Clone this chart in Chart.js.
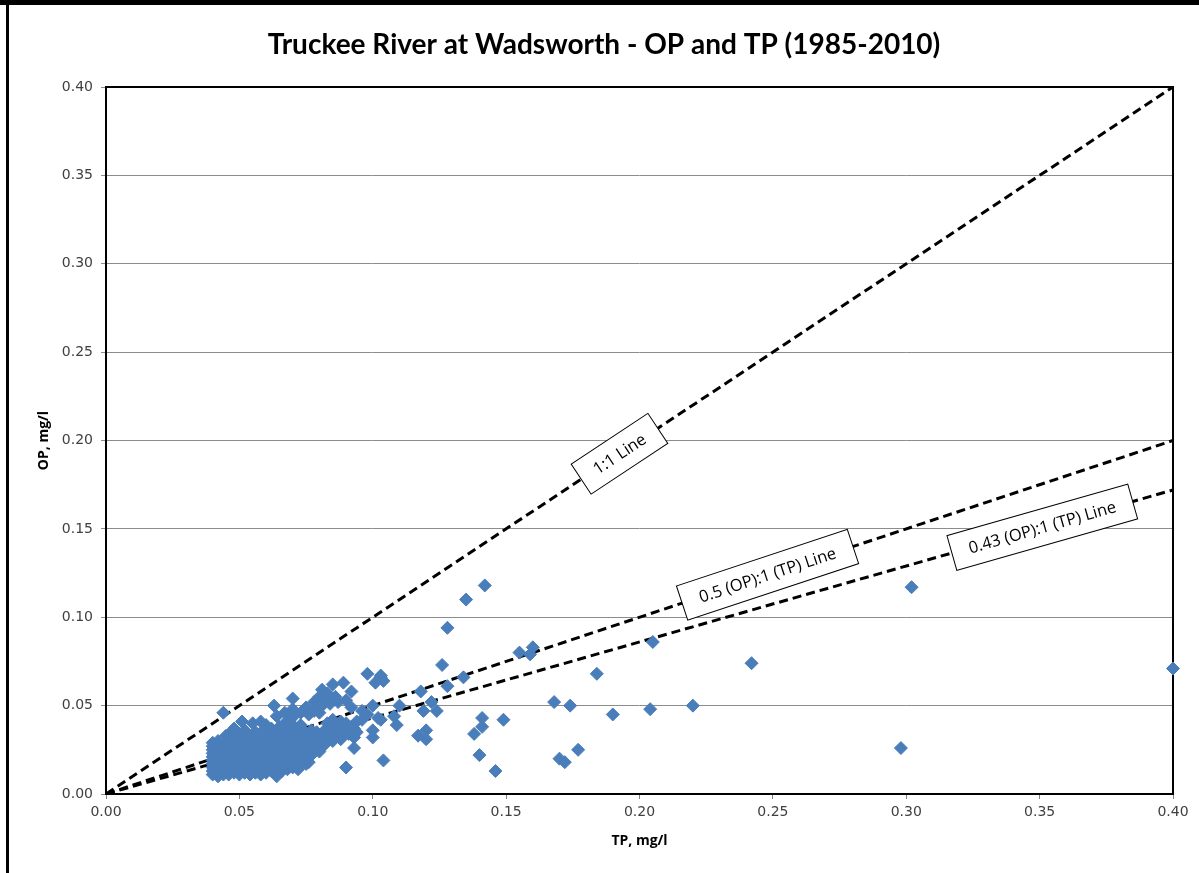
<!DOCTYPE html>
<html>
<head>
<meta charset="utf-8">
<title>Truckee River at Wadsworth - OP and TP (1985-2010)</title>
<script src="https://cdn.jsdelivr.net/npm/chart.js@4.4.1/dist/chart.umd.min.js"></script>
<style>
  html, body { margin: 0; padding: 0; background: #ffffff; }
  #wrap { width: 1199px; height: 873px; }
</style>
</head>
<body>
<div id="wrap"><canvas id="chart" width="1199" height="873"></canvas></div>
<script>
// Paired samples [TP, OP] in mg/l, grouped by TP range
const samplesTP040to059 = [
  [0.040,0.011],[0.040,0.013],[0.040,0.015],[0.040,0.017],[0.040,0.019],[0.040,0.021],[0.040,0.023],[0.040,0.025],[0.040,0.027],[0.040,0.029],
  [0.041,0.012],[0.041,0.016],[0.041,0.020],[0.041,0.024],[0.041,0.028],
  [0.042,0.010],[0.042,0.014],[0.042,0.018],[0.042,0.022],[0.042,0.026],[0.042,0.030],
  [0.043,0.012],[0.043,0.017],[0.043,0.021],[0.043,0.025],
  [0.044,0.011],[0.044,0.015],[0.044,0.019],[0.044,0.023],[0.044,0.027],[0.044,0.046],
  [0.045,0.013],[0.045,0.018],[0.045,0.022],[0.045,0.028],[0.045,0.033],
  [0.046,0.011],[0.046,0.016],[0.046,0.020],[0.046,0.025],[0.046,0.030],
  [0.047,0.014],[0.047,0.019],[0.047,0.024],[0.047,0.035],
  [0.048,0.012],[0.048,0.017],[0.048,0.022],[0.048,0.027],[0.048,0.031],[0.048,0.037],
  [0.049,0.015],[0.049,0.020],[0.049,0.026],[0.049,0.033],
  [0.050,0.011],[0.050,0.016],[0.050,0.021],[0.050,0.025],[0.050,0.029],[0.050,0.034],
  [0.051,0.013],[0.051,0.018],[0.051,0.023],[0.051,0.028],[0.051,0.041],
  [0.052,0.012],[0.052,0.020],[0.052,0.026],[0.052,0.031],[0.052,0.036],
  [0.053,0.015],[0.053,0.022],[0.053,0.027],[0.053,0.033],
  [0.054,0.011],[0.054,0.018],[0.054,0.024],[0.054,0.029],
  [0.055,0.014],[0.055,0.020],[0.055,0.026],[0.055,0.032],[0.055,0.040],
  [0.056,0.012],[0.056,0.017],[0.056,0.023],[0.056,0.028],[0.056,0.035],
  [0.057,0.015],[0.057,0.021],[0.057,0.030],
  [0.058,0.011],[0.058,0.019],[0.058,0.025],[0.058,0.033],[0.058,0.041],
  [0.059,0.014],[0.059,0.022],[0.059,0.028],[0.059,0.036]
];
const samplesTP060to079 = [
  [0.060,0.012],[0.060,0.017],[0.060,0.024],[0.060,0.030],[0.060,0.039],
  [0.061,0.015],[0.061,0.021],[0.061,0.027],[0.061,0.034],
  [0.062,0.013],[0.062,0.019],[0.062,0.025],[0.062,0.031],[0.062,0.037],
  [0.063,0.016],[0.063,0.023],[0.063,0.029],[0.063,0.035],[0.063,0.050],
  [0.064,0.010],[0.064,0.014],[0.064,0.020],[0.064,0.026],[0.064,0.033],[0.064,0.044],
  [0.065,0.017],[0.065,0.022],[0.065,0.028],[0.065,0.038],
  [0.066,0.013],[0.066,0.019],[0.066,0.025],[0.066,0.031],[0.066,0.036],
  [0.067,0.016],[0.067,0.023],[0.067,0.029],[0.067,0.034],[0.067,0.040],[0.067,0.046],
  [0.068,0.014],[0.068,0.020],[0.068,0.027],[0.068,0.032],[0.068,0.038],
  [0.069,0.018],[0.069,0.024],[0.069,0.030],[0.069,0.036],[0.069,0.042],
  [0.070,0.015],[0.070,0.021],[0.070,0.027],[0.070,0.033],[0.070,0.039],[0.070,0.048],[0.070,0.054],
  [0.071,0.019],[0.071,0.025],[0.071,0.031],[0.071,0.037],[0.071,0.045],
  [0.072,0.014],[0.072,0.022],[0.072,0.028],[0.072,0.034],
  [0.073,0.018],[0.073,0.026],[0.073,0.032],[0.073,0.039],[0.073,0.046],
  [0.074,0.021],[0.074,0.029],[0.074,0.036],
  [0.075,0.017],[0.075,0.024],[0.075,0.033],[0.075,0.049],
  [0.076,0.018],[0.076,0.027],[0.076,0.031],[0.076,0.045],
  [0.077,0.022],[0.077,0.030],[0.077,0.036],
  [0.078,0.025],[0.078,0.033],[0.078,0.047],[0.078,0.052],
  [0.079,0.028],[0.079,0.035]
];
const samplesTP080to110 = [
  [0.080,0.024],[0.080,0.031],[0.080,0.046],[0.080,0.055],
  [0.081,0.034],[0.081,0.050],[0.081,0.059],
  [0.082,0.028],[0.082,0.036],[0.082,0.053],
  [0.083,0.032],[0.083,0.040],[0.083,0.057],
  [0.084,0.037],[0.084,0.051],
  [0.085,0.030],[0.085,0.042],[0.085,0.062],
  [0.086,0.034],[0.086,0.055],
  [0.087,0.039],[0.087,0.052],
  [0.088,0.031],[0.088,0.041],
  [0.089,0.036],[0.089,0.063],
  [0.090,0.015],[0.090,0.040],[0.090,0.053],
  [0.091,0.034],
  [0.092,0.038],[0.092,0.049],[0.092,0.058],
  [0.093,0.026],[0.093,0.032],[0.093,0.037],
  [0.094,0.035],[0.094,0.041],
  [0.096,0.042],[0.096,0.047],
  [0.098,0.045],[0.098,0.068],
  [0.100,0.032],[0.100,0.036],[0.100,0.050],[0.101,0.063],
  [0.102,0.043],[0.103,0.042],[0.103,0.066],[0.103,0.067],[0.104,0.019],[0.104,0.064],
  [0.108,0.044],[0.109,0.039],[0.110,0.050]
];
const samplesTPabove110 = [
  [0.117,0.033],[0.118,0.058],[0.119,0.047],[0.120,0.031],[0.120,0.036],[0.122,0.052],[0.124,0.047],
  [0.126,0.073],[0.128,0.061],[0.128,0.094],[0.134,0.066],[0.135,0.110],[0.142,0.118],
  [0.138,0.034],[0.140,0.022],[0.141,0.038],[0.141,0.043],[0.149,0.042],[0.146,0.013],
  [0.155,0.080],[0.160,0.083],[0.159,0.079],
  [0.168,0.052],[0.170,0.020],[0.172,0.018],[0.174,0.050],[0.177,0.025],
  [0.184,0.068],[0.190,0.045],[0.204,0.048],[0.205,0.086],[0.220,0.050],
  [0.242,0.074],[0.298,0.026],[0.302,0.117],[0.400,0.071]
];

// Reference ratio lines: TP end points and the matching OP end points
const ratioLineTP = [0.00, 0.40];
const oneToOneOP = [0.00, 0.40];
const halfRatioOP = [0.00, 0.20];
const ratio043OP = [0.00, 0.172];

// Axis tick values (both axes)
const axisTicks = [0.00, 0.05, 0.10, 0.15, 0.20, 0.25, 0.30, 0.35, 0.40];

const titleText = 'Truckee River at Wadsworth - OP and TP (1985-2010)';
const xTitle = 'TP, mg/l';
const yTitle = 'OP, mg/l';

const toPoints = (pairs) => pairs.map(([x, y]) => ({ x, y }));
const linePoints = (ops) => ratioLineTP.map((x, i) => ({ x, y: ops[i] }));

const allSamples = [].concat(samplesTP040to059, samplesTP060to079, samplesTP080to110, samplesTPabove110);

// Labels placed on each ratio line (box width in px)
const lineLabels = [
  { text: '1:1 Line', ops: oneToOneOP, atTP: 0.1925, boxW: 92 },
  { text: '0.5 (OP):1 (TP) Line', ops: halfRatioOP, atTP: 0.248, boxW: 180 },
  { text: '0.43 (OP):1 (TP) Line', ops: ratio043OP, atTP: 0.351, boxW: 188 }
];

const dashStyle = { borderColor: '#000000', borderWidth: 3, borderDash: [9, 5], pointRadius: 0, showLine: true, fill: false, tension: 0 };

const framePlugin = {
  id: 'frame',
  beforeDraw(chart) {
    const ctx = chart.ctx;
    ctx.save();
    ctx.fillStyle = '#ffffff';
    ctx.fillRect(0, 0, chart.width, chart.height);
    ctx.fillStyle = '#000000';
    ctx.fillRect(0, 0, chart.width, 5);
    ctx.fillRect(6, 0, 3, chart.height);
    ctx.restore();
  },
  beforeDatasetsDraw(chart) {
    const { ctx, chartArea: a } = chart;
    ctx.save();
    ctx.strokeStyle = '#000000';
    ctx.lineWidth = 2;
    ctx.strokeRect(a.left, a.top, a.right - a.left, a.bottom - a.top);
    ctx.restore();
  },
  afterDatasetsDraw(chart) {
    const { ctx } = chart;
    const xs = chart.scales.x, ys = chart.scales.y;
    ctx.save();
    ctx.font = '16.5px "Open Sans"';
    ctx.textAlign = 'center';
    ctx.textBaseline = 'middle';
    lineLabels.forEach((lb) => {
      const slope = (lb.ops[1] - lb.ops[0]) / (ratioLineTP[1] - ratioLineTP[0]);
      const cx = xs.getPixelForValue(lb.atTP);
      const cy = ys.getPixelForValue(lb.ops[0] + slope * (lb.atTP - ratioLineTP[0]));
      const ang = Math.atan2(
        ys.getPixelForValue(lb.ops[1]) - ys.getPixelForValue(lb.ops[0]),
        xs.getPixelForValue(ratioLineTP[1]) - xs.getPixelForValue(ratioLineTP[0])
      );
      const h = 36;
      ctx.save();
      ctx.translate(cx, cy);
      ctx.rotate(ang);
      ctx.fillStyle = '#ffffff';
      ctx.fillRect(-lb.boxW / 2, -h / 2, lb.boxW, h);
      ctx.strokeStyle = '#000000';
      ctx.lineWidth = 1;
      ctx.strokeRect(-lb.boxW / 2, -h / 2, lb.boxW, h);
      ctx.fillStyle = '#000000';
      ctx.fillText(lb.text, 0, 1);
      ctx.restore();
    });
    ctx.restore();
  },
  afterDraw(chart) {
    const ctx = chart.ctx;
    ctx.save();
    ctx.fillStyle = '#000000';
    ctx.font = 'bold 28px Lato';
    ctx.textAlign = 'center';
    ctx.textBaseline = 'middle';
    ctx.fillText(titleText, 604, 45);
    ctx.restore();
  }
};

const tickFont = { family: '"DejaVu Sans"', size: 14 };
const axisTitleFont = { family: '"Open Sans"', size: 14, weight: 'bold' };

new Chart(document.getElementById('chart'), {
  type: 'scatter',
  data: {
    datasets: [
      {
        label: 'OP vs TP',
        data: toPoints(allSamples),
        pointStyle: 'rectRot',
        pointRadius: 6.5,
        pointBorderWidth: 1,
        backgroundColor: '#4A7EBB',
        borderColor: '#4A7EBB',
        showLine: false,
        clip: false
      },
      Object.assign({ label: '1:1 Line', data: linePoints(oneToOneOP) }, dashStyle),
      Object.assign({ label: '0.5 (OP):1 (TP) Line', data: linePoints(halfRatioOP) }, dashStyle),
      Object.assign({ label: '0.43 (OP):1 (TP) Line', data: linePoints(ratio043OP) }, dashStyle)
    ]
  },
  options: {
    responsive: false,
    animation: false,
    devicePixelRatio: 1,
    layout: { padding: { top: 87, right: 26, bottom: 0, left: 0 } },
    plugins: {
      legend: { display: false },
      tooltip: { enabled: false },
      title: { display: false }
    },
    scales: {
      x: {
        type: 'linear',
        min: 0, max: 0.4,
        afterBuildTicks: (s) => { s.ticks = axisTicks.map((v) => ({ value: v })); },
        afterFit: (s) => { s.height = 79; },
        ticks: {
          callback: (v) => Number(v).toFixed(2),
          font: tickFont, color: '#404040', padding: 5, maxRotation: 0, autoSkip: false
        },
        grid: { drawOnChartArea: false, drawTicks: true, tickLength: 5, color: '#7f7f7f' },
        border: { display: false },
        title: { display: true, text: xTitle, font: axisTitleFont, color: '#000000', padding: { top: 0, bottom: 24 } }
      },
      y: {
        type: 'linear',
        min: 0, max: 0.4,
        afterBuildTicks: (s) => { s.ticks = axisTicks.map((v) => ({ value: v })); },
        afterFit: (s) => { s.width = 106; },
        ticks: {
          callback: (v) => Number(v).toFixed(2),
          font: tickFont, color: '#404040', padding: 8, autoSkip: false
        },
        grid: { drawOnChartArea: true, drawTicks: true, tickLength: 5, color: '#8c8c8c', lineWidth: 1 },
        border: { display: false },
        title: { display: true, text: yTitle, font: axisTitleFont, color: '#000000', padding: { top: 36, bottom: 0 } }
      }
    }
  },
  plugins: [framePlugin]
});
</script>
</body>
</html>
